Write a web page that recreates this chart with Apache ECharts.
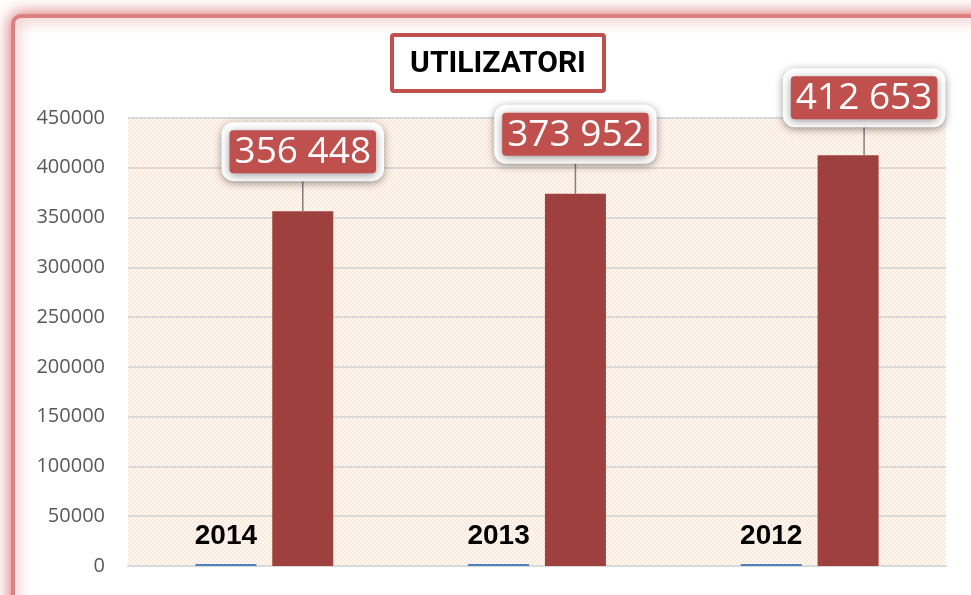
<!DOCTYPE html>
<html>
<head>
<meta charset="utf-8">
<script src="https://cdn.jsdelivr.net/npm/echarts@6/dist/echarts.min.js"></script>
<style>
  html, body { margin: 0; padding: 0; background: #fff; }
  #chart { width: 971px; height: 595px; }
</style>
</head>
<body>
<div id="chart"></div>
<script>
const years = [2014, 2013, 2012];
const users = [356448, 373952, 412653];
const yTicks = [0, 50000, 100000, 150000, 200000, 250000, 300000, 350000, 400000, 450000];

// little checker pattern for the plot background
const tile = document.createElement('canvas');
tile.width = 4;
tile.height = 4;
const tctx = tile.getContext('2d');
tctx.fillStyle = '#FDE9DA';
tctx.fillRect(0, 0, 4, 4);
tctx.fillStyle = '#FFF7F1';
tctx.fillRect(0, 0, 2, 2);
tctx.fillRect(2, 2, 2, 2);

const chart = echarts.init(document.getElementById('chart'));

const fmtSpace = v => String(v).replace(/\B(?=(\d{3})+(?!\d))/g, ' ');

const option = {
  backgroundColor: '#fff',
  animation: false,
  graphic: [
    {
      type: 'rect',
      z: -10,
      shape: { x: 13, y: 16, width: 980, height: 600, r: 8 },
      style: { fill: '#fff', stroke: '#DE8080', lineWidth: 4, shadowBlur: 16, shadowColor: 'rgba(215,90,90,0.9)' }
    },
    {
      type: 'group',
      left: 390,
      top: 33,
      children: [
        {
          type: 'rect',
          shape: { x: 0, y: 0, width: 212, height: 56, r: 2 },
          style: { fill: '#fff', stroke: '#C0504D', lineWidth: 4 }
        },
        {
          type: 'text',
          style: {
            x: 106, y: 29, text: 'UTILIZATORI', align: 'center', verticalAlign: 'middle',
            fontFamily: 'Roboto, sans-serif', fontWeight: 'bold', fontSize: 30, fill: '#000'
          }
        }
      ]
    }
  ],
  grid: {
    left: 128, right: 25, top: 118, bottom: 29,
    show: true,
    borderWidth: 0,
    backgroundColor: { image: tile, repeat: 'repeat' }
  },
  xAxis: {
    type: 'category',
    data: years.map(String),
    axisLine: { lineStyle: { color: '#D9D9D9', width: 2 } },
    axisTick: { show: false },
    axisLabel: { show: false }
  },
  yAxis: {
    type: 'value',
    min: yTicks[0],
    max: yTicks[yTicks.length - 1],
    interval: 50000,
    axisLine: { show: false },
    axisTick: { show: false },
    axisLabel: {
      formatter: v => String(v),
      color: '#595959', fontSize: 20, fontFamily: 'Open Sans, sans-serif', margin: 23
    },
    splitLine: { lineStyle: { color: '#D9D9D9', width: 2 } }
  },
  series: [
    {
      type: 'bar',
      data: years,
      barWidth: 61,
      barGap: '26%',
      itemStyle: { color: '#4F81BD' },
      label: {
        show: true,
        position: 'top',
        distance: 14,
        color: '#000',
        fontSize: 28,
        fontWeight: 'bold',
        fontFamily: 'Liberation Sans, Arial, sans-serif'
      }
    },
    {
      type: 'bar',
      data: users,
      barWidth: 61,
      itemStyle: { color: '#9E413E' },
      label: {
        show: true,
        position: 'top',
        distance: 38,
        formatter: p => fmtSpace(p.value),
        color: '#fff',
        fontSize: 37,
        fontFamily: 'Open Sans, sans-serif',
        backgroundColor: '#C0504D',
        padding: [4, 5, 2, 5],
        borderColor: '#fff',
        borderWidth: 8,
        borderRadius: 4,
        shadowBlur: 8,
        shadowColor: 'rgba(0,0,0,0.4)',
        shadowOffsetY: 2
      },
      labelLayout: p => (p.dataIndex === 2 ? { dx: 16, dy: 2 } : { dy: 0 }),
      labelLine: { show: true, lineStyle: { color: '#7F7F7F', width: 1.5 } }
    }
  ]
};

chart.setOption(option);
</script>
</body>
</html>
